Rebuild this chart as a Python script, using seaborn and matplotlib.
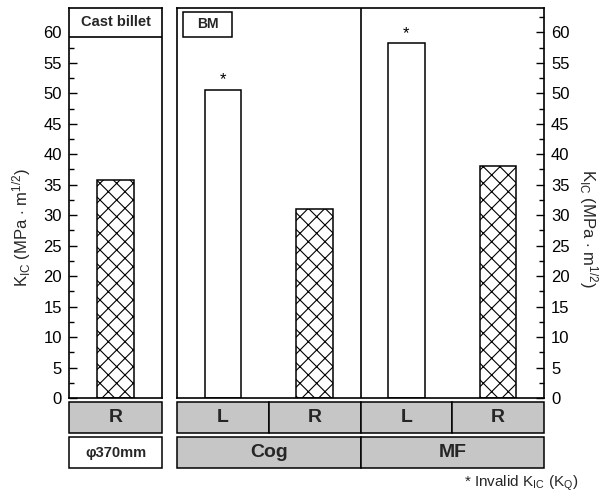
import matplotlib
matplotlib.use("Agg")
import matplotlib.pyplot as plt
import matplotlib.transforms as mtransforms
from matplotlib.patches import Rectangle
from matplotlib.ticker import MultipleLocator
import seaborn as sns
import pandas as pd

# ---- data ----
cast_labels = ["R"]
cast_values = [35.7]
main_labels = ["Cog-L", "Cog-R", "MF-L", "MF-R"]
main_dirs = ["L", "R", "L", "R"]
main_values = [50.6, 31.0, 58.2, 38.0]
main_invalid = [True, False, True, False]
groups = ["Cog", "MF"]
yticks = [0, 5, 10, 15, 20, 25, 30, 35, 40, 45, 50, 55, 60]

sns.set_theme(style="white")
plt.rcParams["font.family"] = ["Liberation Sans", "DejaVu Sans"]
plt.rcParams["mathtext.fontset"] = "custom"
plt.rcParams["mathtext.rm"] = "Liberation Sans"
plt.rcParams["mathtext.it"] = "Liberation Sans"
plt.rcParams["hatch.linewidth"] = 0.8

W, H = 608, 497
fig = plt.figure(figsize=(W / 100, H / 100), dpi=100)
def fx(p): return p / W
def fy(p): return 1 - p / H

bottom_px, top_px = 398, 8
ax1 = fig.add_axes([fx(69), fy(bottom_px), fx(162) - fx(69), (bottom_px - top_px) / H])
ax2 = fig.add_axes([fx(177), fy(bottom_px), fx(544) - fx(177), (bottom_px - top_px) / H])

df1 = pd.DataFrame({"pos": cast_labels, "val": cast_values})
df2 = pd.DataFrame({"pos": main_labels, "val": main_values})
sns.barplot(data=df1, x="pos", y="val", color="white", edgecolor="black",
            linewidth=1.1, width=0.4, ax=ax1, saturation=1)
sns.barplot(data=df2, x="pos", y="val", color="white", edgecolor="black",
            linewidth=1.1, width=0.4, ax=ax2, saturation=1)

for p in ax1.patches:
    p.set_facecolor("white"); p.set_hatch("xx")
for p, d in zip(ax2.patches, main_dirs):
    p.set_facecolor("white")
    if d == "R":
        p.set_hatch("xx")

for i, (v, inv) in enumerate(zip(main_values, main_invalid)):
    if inv:
        ax2.text(i, v + 0.4, "*", ha="center", va="bottom", fontsize=12, color="black")

for ax in (ax1, ax2):
    ax.set_ylim(0, 64)
    ax.set_xlabel(""); ax.set_ylabel("")
    ax.set_xticks([])
    ax.yaxis.set_major_locator(MultipleLocator(5))
    ax.yaxis.set_minor_locator(MultipleLocator(2.5))
    for s in ax.spines.values():
        s.set_visible(True); s.set_color("black"); s.set_linewidth(1.2)

ax1.set_xlim(-0.5, 0.5)
ax2.set_xlim(-0.5, 3.5)
ax1.tick_params(axis="y", which="both", direction="in", left=True, right=False,
                labelleft=True, labelright=False, labelsize=12, colors="black", pad=5)
ax1.tick_params(axis="y", which="major", length=6, width=1)
ax1.tick_params(axis="y", which="minor", length=3.5, width=1)
ax2.tick_params(axis="y", which="both", direction="in", left=False, right=True,
                labelleft=False, labelright=True, labelsize=12, colors="black", pad=5)
ax2.tick_params(axis="y", which="major", length=6, width=1)
ax2.tick_params(axis="y", which="minor", length=3.5, width=1)
ax1.set_yticks(yticks); ax2.set_yticks(yticks)

# divider between Cog and MF
ax2.axvline(1.5, color="black", lw=1.2)

# header boxes
ax1.add_patch(Rectangle((0, 0.926), 1, 0.074, transform=ax1.transAxes,
                        facecolor="white", edgecolor="black", lw=1.2, zorder=5))
ax1.text(0.5, 0.963, "Cast billet", transform=ax1.transAxes, ha="center", va="center",
         fontsize=10.5, fontweight="bold", zorder=6)
ax2.add_patch(Rectangle((0.016, 0.926), 0.134, 0.064, transform=ax2.transAxes,
                        facecolor="white", edgecolor="black", lw=1.1, zorder=5))
ax2.text(0.083, 0.958, "BM", transform=ax2.transAxes, ha="center", va="center",
         fontsize=10, fontweight="bold", zorder=6)

# bottom tiles
gray = "#c6c6c6"
def tile(ax, x0, x1, y0px, y1px, text, fc, fs=14):
    tr = mtransforms.blended_transform_factory(ax.transData, fig.transFigure)
    r = Rectangle((x0, fy(y1px)), x1 - x0, fy(y0px) - fy(y1px), transform=tr,
                  facecolor=fc, edgecolor="black", lw=1.1, clip_on=False)
    fig.add_artist(r)
    fig.text(0, 0, text, transform=tr, fontsize=fs, fontweight="bold",
             ha="center", va="center")
    fig.texts[-1].set_position(((x0 + x1) / 2, (fy(y0px) + fy(y1px)) / 2))

row1 = (402, 433)
row2 = (437, 468)
tile(ax1, -0.5, 0.5, *row1, cast_labels[0], gray)
tile(ax1, -0.5, 0.5, *row2, "\u03c6370mm", "white", fs=10.5)
for i, d in enumerate(main_dirs):
    tile(ax2, i - 0.5, i + 0.5, *row1, d, gray)
for g, grp in enumerate(groups):
    tile(ax2, 2 * g - 0.5, 2 * g + 1.5, *row2, grp, gray)

# y labels
ylab = r"K$_{\mathregular{IC}}$ (MPa $\cdot$ m$^{\mathregular{1/2}}$)"
fig.text(fx(22), fy(228), ylab, rotation=90, ha="center", va="center", fontsize=12)
fig.text(fx(588), fy(228), ylab, rotation=270, ha="center", va="center", fontsize=12)

fig.text(fx(578), fy(483), r"* Invalid K$_{\mathregular{IC}}$ (K$_{\mathregular{Q}}$)",
         ha="right", va="center", fontsize=11)

fig.savefig("out.png", dpi=100)
